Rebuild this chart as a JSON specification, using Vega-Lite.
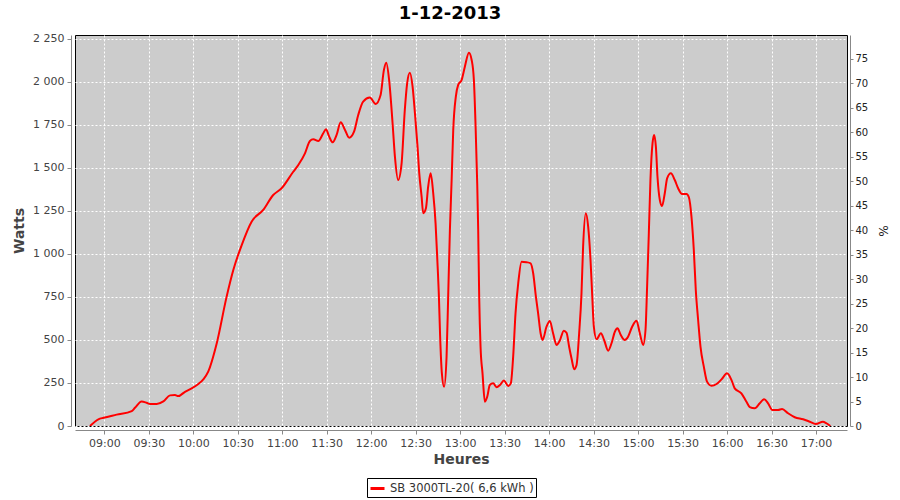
{
  "$schema": "https://vega.github.io/schema/vega-lite/v6.json",
  "width": 772,
  "height": 391,
  "autosize": {"type": "none"},
  "padding": {"left": 75, "top": 35, "right": 53, "bottom": 74},
  "background": "white",
  "title": {"text": "1-12-2013", "font": "DejaVu Sans", "fontSize": 18, "fontWeight": "bold", "color": "#000", "anchor": "middle", "frame": "group", "dx": -11, "dy": 20, "offset": 12, "baseline": "bottom"},
  "config": {"view": {"stroke": "#000", "strokeWidth": 1, "fill": "#cccccc"}, "font": "DejaVu Sans"},
  "layer": [
    {
      "data": {"values": [
        {"t": "2013-12-01T08:50:20", "w": 0},
        {"t": "2013-12-01T08:56:00", "w": 39},
        {"t": "2013-12-01T08:59:30", "w": 48},
        {"t": "2013-12-01T09:08:20", "w": 66},
        {"t": "2013-12-01T09:18:30", "w": 87},
        {"t": "2013-12-01T09:20:40", "w": 106},
        {"t": "2013-12-01T09:25:10", "w": 143},
        {"t": "2013-12-01T09:28:35", "w": 135},
        {"t": "2013-12-01T09:30:50", "w": 128},
        {"t": "2013-12-01T09:35:20", "w": 128},
        {"t": "2013-12-01T09:39:50", "w": 143},
        {"t": "2013-12-01T09:44:20", "w": 178},
        {"t": "2013-12-01T09:47:40", "w": 180},
        {"t": "2013-12-01T09:49:55", "w": 174},
        {"t": "2013-12-01T09:54:25", "w": 199},
        {"t": "2013-12-01T09:58:55", "w": 219},
        {"t": "2013-12-01T10:03:25", "w": 244},
        {"t": "2013-12-01T10:06:45", "w": 271},
        {"t": "2013-12-01T10:10:05", "w": 316},
        {"t": "2013-12-01T10:15:50", "w": 481},
        {"t": "2013-12-01T10:22:30", "w": 752},
        {"t": "2013-12-01T10:27:00", "w": 907},
        {"t": "2013-12-01T10:32:40", "w": 1052},
        {"t": "2013-12-01T10:39:20", "w": 1188},
        {"t": "2013-12-01T10:47:10", "w": 1256},
        {"t": "2013-12-01T10:53:55", "w": 1343},
        {"t": "2013-12-01T10:59:35", "w": 1382},
        {"t": "2013-12-01T11:07:25", "w": 1478},
        {"t": "2013-12-01T11:10:50", "w": 1517},
        {"t": "2013-12-01T11:15:20", "w": 1585},
        {"t": "2013-12-01T11:18:40", "w": 1657},
        {"t": "2013-12-01T11:20:55", "w": 1667},
        {"t": "2013-12-01T11:24:20", "w": 1657},
        {"t": "2013-12-01T11:27:40", "w": 1702},
        {"t": "2013-12-01T11:29:30", "w": 1725},
        {"t": "2013-12-01T11:31:40", "w": 1682},
        {"t": "2013-12-01T11:34:00", "w": 1649},
        {"t": "2013-12-01T11:36:40", "w": 1692},
        {"t": "2013-12-01T11:39:25", "w": 1766},
        {"t": "2013-12-01T11:42:20", "w": 1721},
        {"t": "2013-12-01T11:45:10", "w": 1676},
        {"t": "2013-12-01T11:48:25", "w": 1711},
        {"t": "2013-12-01T11:51:15", "w": 1808},
        {"t": "2013-12-01T11:54:35", "w": 1886},
        {"t": "2013-12-01T11:59:05", "w": 1909},
        {"t": "2013-12-01T12:03:00", "w": 1872},
        {"t": "2013-12-01T12:06:20", "w": 1924},
        {"t": "2013-12-01T12:08:35", "w": 2070},
        {"t": "2013-12-01T12:10:10", "w": 2112},
        {"t": "2013-12-01T12:12:05", "w": 2012},
        {"t": "2013-12-01T12:14:25", "w": 1760},
        {"t": "2013-12-01T12:16:00", "w": 1566},
        {"t": "2013-12-01T12:18:10", "w": 1430},
        {"t": "2013-12-01T12:20:30", "w": 1527},
        {"t": "2013-12-01T12:22:40", "w": 1837},
        {"t": "2013-12-01T12:24:15", "w": 1992},
        {"t": "2013-12-01T12:26:05", "w": 2054},
        {"t": "2013-12-01T12:27:55", "w": 1973},
        {"t": "2013-12-01T12:29:30", "w": 1818},
        {"t": "2013-12-01T12:31:15", "w": 1624},
        {"t": "2013-12-01T12:32:25", "w": 1469},
        {"t": "2013-12-01T12:34:00", "w": 1333},
        {"t": "2013-12-01T12:35:05", "w": 1237},
        {"t": "2013-12-01T12:36:55", "w": 1266},
        {"t": "2013-12-01T12:38:25", "w": 1391},
        {"t": "2013-12-01T12:40:05", "w": 1469},
        {"t": "2013-12-01T12:41:50", "w": 1353},
        {"t": "2013-12-01T12:43:25", "w": 1178},
        {"t": "2013-12-01T12:44:30", "w": 984},
        {"t": "2013-12-01T12:45:40", "w": 752},
        {"t": "2013-12-01T12:46:30", "w": 519},
        {"t": "2013-12-01T12:47:40", "w": 306},
        {"t": "2013-12-01T12:49:10", "w": 228},
        {"t": "2013-12-01T12:50:50", "w": 403},
        {"t": "2013-12-01T12:51:55", "w": 752},
        {"t": "2013-12-01T12:53:05", "w": 1140},
        {"t": "2013-12-01T12:54:15", "w": 1430},
        {"t": "2013-12-01T12:55:20", "w": 1721},
        {"t": "2013-12-01T12:57:05", "w": 1915},
        {"t": "2013-12-01T12:58:40", "w": 1983},
        {"t": "2013-12-01T13:01:00", "w": 2012},
        {"t": "2013-12-01T13:03:10", "w": 2089},
        {"t": "2013-12-01T13:05:55", "w": 2170},
        {"t": "2013-12-01T13:07:45", "w": 2128},
        {"t": "2013-12-01T13:09:15", "w": 2012},
        {"t": "2013-12-01T13:10:25", "w": 1740},
        {"t": "2013-12-01T13:11:30", "w": 1411},
        {"t": "2013-12-01T13:12:10", "w": 1140},
        {"t": "2013-12-01T13:12:50", "w": 752},
        {"t": "2013-12-01T13:13:45", "w": 461},
        {"t": "2013-12-01T13:15:05", "w": 306},
        {"t": "2013-12-01T13:16:40", "w": 141},
        {"t": "2013-12-01T13:18:15", "w": 170},
        {"t": "2013-12-01T13:20:00", "w": 238},
        {"t": "2013-12-01T13:22:15", "w": 248},
        {"t": "2013-12-01T13:24:35", "w": 225},
        {"t": "2013-12-01T13:26:50", "w": 238},
        {"t": "2013-12-01T13:29:30", "w": 264},
        {"t": "2013-12-01T13:32:25", "w": 233},
        {"t": "2013-12-01T13:34:10", "w": 248},
        {"t": "2013-12-01T13:35:45", "w": 403},
        {"t": "2013-12-01T13:37:20", "w": 655},
        {"t": "2013-12-01T13:39:10", "w": 830},
        {"t": "2013-12-01T13:41:25", "w": 955},
        {"t": "2013-12-01T13:44:45", "w": 952},
        {"t": "2013-12-01T13:47:30", "w": 946},
        {"t": "2013-12-01T13:49:15", "w": 888},
        {"t": "2013-12-01T13:51:05", "w": 752},
        {"t": "2013-12-01T13:52:35", "w": 655},
        {"t": "2013-12-01T13:54:15", "w": 539},
        {"t": "2013-12-01T13:55:35", "w": 500},
        {"t": "2013-12-01T13:58:15", "w": 577},
        {"t": "2013-12-01T14:00:30", "w": 610},
        {"t": "2013-12-01T14:02:40", "w": 539},
        {"t": "2013-12-01T14:05:00", "w": 471},
        {"t": "2013-12-01T14:07:10", "w": 496},
        {"t": "2013-12-01T14:09:55", "w": 554},
        {"t": "2013-12-01T14:11:45", "w": 542},
        {"t": "2013-12-01T14:13:30", "w": 461},
        {"t": "2013-12-01T14:15:05", "w": 394},
        {"t": "2013-12-01T14:16:55", "w": 330},
        {"t": "2013-12-01T14:18:30", "w": 355},
        {"t": "2013-12-01T14:20:15", "w": 539},
        {"t": "2013-12-01T14:21:50", "w": 772},
        {"t": "2013-12-01T14:22:55", "w": 1042},
        {"t": "2013-12-01T14:24:45", "w": 1237},
        {"t": "2013-12-01T14:26:20", "w": 1159},
        {"t": "2013-12-01T14:27:55", "w": 965},
        {"t": "2013-12-01T14:29:00", "w": 772},
        {"t": "2013-12-01T14:30:10", "w": 577},
        {"t": "2013-12-01T14:32:00", "w": 504},
        {"t": "2013-12-01T14:34:55", "w": 539},
        {"t": "2013-12-01T14:37:05", "w": 500},
        {"t": "2013-12-01T14:39:50", "w": 438},
        {"t": "2013-12-01T14:42:05", "w": 481},
        {"t": "2013-12-01T14:44:20", "w": 548},
        {"t": "2013-12-01T14:46:05", "w": 568},
        {"t": "2013-12-01T14:48:20", "w": 529},
        {"t": "2013-12-01T14:51:00", "w": 500},
        {"t": "2013-12-01T14:53:15", "w": 519},
        {"t": "2013-12-01T14:56:00", "w": 577},
        {"t": "2013-12-01T14:58:55", "w": 612},
        {"t": "2013-12-01T15:01:10", "w": 539},
        {"t": "2013-12-01T15:03:25", "w": 471},
        {"t": "2013-12-01T15:05:00", "w": 558},
        {"t": "2013-12-01T15:06:05", "w": 810},
        {"t": "2013-12-01T15:07:15", "w": 1120},
        {"t": "2013-12-01T15:08:20", "w": 1430},
        {"t": "2013-12-01T15:09:45", "w": 1644},
        {"t": "2013-12-01T15:10:50", "w": 1692},
        {"t": "2013-12-01T15:12:00", "w": 1624},
        {"t": "2013-12-01T15:13:05", "w": 1449},
        {"t": "2013-12-01T15:14:40", "w": 1314},
        {"t": "2013-12-01T15:16:10", "w": 1279},
        {"t": "2013-12-01T15:18:00", "w": 1353},
        {"t": "2013-12-01T15:19:35", "w": 1440},
        {"t": "2013-12-01T15:22:05", "w": 1469},
        {"t": "2013-12-01T15:24:45", "w": 1430},
        {"t": "2013-12-01T15:27:00", "w": 1382},
        {"t": "2013-12-01T15:29:40", "w": 1349},
        {"t": "2013-12-01T15:32:40", "w": 1349},
        {"t": "2013-12-01T15:34:15", "w": 1330},
        {"t": "2013-12-01T15:36:00", "w": 1217},
        {"t": "2013-12-01T15:37:35", "w": 1023},
        {"t": "2013-12-01T15:38:55", "w": 791},
        {"t": "2013-12-01T15:40:30", "w": 616},
        {"t": "2013-12-01T15:42:05", "w": 461},
        {"t": "2013-12-01T15:44:20", "w": 345},
        {"t": "2013-12-01T15:46:30", "w": 258},
        {"t": "2013-12-01T15:49:30", "w": 234},
        {"t": "2013-12-01T15:52:55", "w": 244},
        {"t": "2013-12-01T15:56:15", "w": 271},
        {"t": "2013-12-01T16:00:00", "w": 306},
        {"t": "2013-12-01T16:03:00", "w": 267},
        {"t": "2013-12-01T16:05:10", "w": 219},
        {"t": "2013-12-01T16:09:40", "w": 190},
        {"t": "2013-12-01T16:13:05", "w": 141},
        {"t": "2013-12-01T16:15:20", "w": 110},
        {"t": "2013-12-01T16:18:40", "w": 103},
        {"t": "2013-12-01T16:22:05", "w": 132},
        {"t": "2013-12-01T16:25:00", "w": 155},
        {"t": "2013-12-01T16:27:40", "w": 132},
        {"t": "2013-12-01T16:30:35", "w": 93},
        {"t": "2013-12-01T16:34:25", "w": 93},
        {"t": "2013-12-01T16:37:05", "w": 99},
        {"t": "2013-12-01T16:41:10", "w": 74},
        {"t": "2013-12-01T16:45:40", "w": 51},
        {"t": "2013-12-01T16:51:20", "w": 39},
        {"t": "2013-12-01T16:55:50", "w": 25},
        {"t": "2013-12-01T16:59:50", "w": 12},
        {"t": "2013-12-01T17:04:40", "w": 25},
        {"t": "2013-12-01T17:07:00", "w": 16},
        {"t": "2013-12-01T17:09:40", "w": 0}
      ]},
      "mark": {"type": "line", "interpolate": "monotone", "strokeWidth": 2, "clip": true},
      "encoding": {
        "x": {
          "field": "t", "type": "temporal",
          "scale": {"domain": [
            {"year": 2013, "month": 12, "date": 1, "hours": 8, "minutes": 40, "seconds": 14},
            {"year": 2013, "month": 12, "date": 1, "hours": 17, "minutes": 20, "seconds": 54}
          ]},
          "axis": {
            "title": "Heures", "format": "%H:%M",
            "values": [
              {"year": 2013, "month": 12, "date": 1, "hours": 9, "minutes": 0},
              {"year": 2013, "month": 12, "date": 1, "hours": 9, "minutes": 30},
              {"year": 2013, "month": 12, "date": 1, "hours": 10, "minutes": 0},
              {"year": 2013, "month": 12, "date": 1, "hours": 10, "minutes": 30},
              {"year": 2013, "month": 12, "date": 1, "hours": 11, "minutes": 0},
              {"year": 2013, "month": 12, "date": 1, "hours": 11, "minutes": 30},
              {"year": 2013, "month": 12, "date": 1, "hours": 12, "minutes": 0},
              {"year": 2013, "month": 12, "date": 1, "hours": 12, "minutes": 30},
              {"year": 2013, "month": 12, "date": 1, "hours": 13, "minutes": 0},
              {"year": 2013, "month": 12, "date": 1, "hours": 13, "minutes": 30},
              {"year": 2013, "month": 12, "date": 1, "hours": 14, "minutes": 0},
              {"year": 2013, "month": 12, "date": 1, "hours": 14, "minutes": 30},
              {"year": 2013, "month": 12, "date": 1, "hours": 15, "minutes": 0},
              {"year": 2013, "month": 12, "date": 1, "hours": 15, "minutes": 30},
              {"year": 2013, "month": 12, "date": 1, "hours": 16, "minutes": 0},
              {"year": 2013, "month": 12, "date": 1, "hours": 16, "minutes": 30},
              {"year": 2013, "month": 12, "date": 1, "hours": 17, "minutes": 0}
            ],
            "offset": 4, "grid": true, "gridColor": "#ffffff", "gridDash": [2, 2], "gridOpacity": 1, "gridWidth": 1,
            "domainColor": "#888888", "tickColor": "#888888", "tickSize": 4,
            "labelFont": "DejaVu Sans", "labelFontSize": 11, "labelColor": "#444444", "labelPadding": 3,
            "labelFlush": false, "labelOverlap": false,
            "titleFont": "DejaVu Sans", "titleFontSize": 14, "titleFontWeight": "bold", "titleColor": "#444444", "titlePadding": 4
          }
        },
        "y": {
          "field": "w", "type": "quantitative",
          "scale": {"domain": [0, 2273], "nice": false, "zero": false},
          "axis": {
            "title": "Watts", "values": [0, 250, 500, 750, 1000, 1250, 1500, 1750, 2000, 2250],
            "labelExpr": "replace(format(datum.value, ','), ',', ' ')",
            "offset": 4, "grid": true, "gridColor": "#ffffff", "gridDash": [2, 2], "gridOpacity": 1, "gridWidth": 1,
            "domainColor": "#888888", "tickColor": "#888888", "tickSize": 4,
            "labelFont": "DejaVu Sans", "labelFontSize": 11, "labelColor": "#444444", "labelPadding": 3,
            "labelFlush": false, "labelOverlap": false,
            "titleFont": "DejaVu Sans", "titleFontSize": 14, "titleFontWeight": "bold", "titleColor": "#444444", "titlePadding": 6
          }
        },
        "color": {
          "datum": "SB 3000TL-20( 6,6 kWh )", "type": "nominal",
          "scale": {"range": ["#ff0000"]},
          "legend": {
            "title": null, "orient": "none", "legendX": 292, "legendY": 443,
            "symbolType": "stroke", "symbolSize": 196, "symbolStrokeWidth": 3,
            "labelFont": "DejaVu Sans", "labelFontSize": 11.5, "labelColor": "#333333", "labelOffset": 4,
            "strokeColor": "#000000", "fillColor": "#ffffff", "padding": 2, "cornerRadius": 0
          }
        }
      }
    },
    {
      "data": {"values": [{"p": 0}]},
      "mark": {"type": "rule", "opacity": 0},
      "encoding": {
        "y": {
          "field": "p", "type": "quantitative",
          "scale": {"domain": [0, 79.8], "nice": false, "zero": false},
          "axis": {
            "orient": "right", "title": "%", "values": [0, 5, 10, 15, 20, 25, 30, 35, 40, 45, 50, 55, 60, 65, 70, 75],
            "offset": 3, "grid": false,
            "domainColor": "#888888", "tickColor": "#888888", "tickSize": 3,
            "labelFont": "DejaVu Sans", "labelFontSize": 10, "labelColor": "#222222", "labelPadding": 2,
            "labelFlush": false, "labelOverlap": false,
            "titleFont": "DejaVu Sans", "titleFontSize": 12, "titleFontWeight": "normal", "titleColor": "#222222", "titlePadding": 8
          }
        }
      }
    }
  ],
  "resolve": {"scale": {"y": "independent"}, "axis": {"y": "independent"}}
}
